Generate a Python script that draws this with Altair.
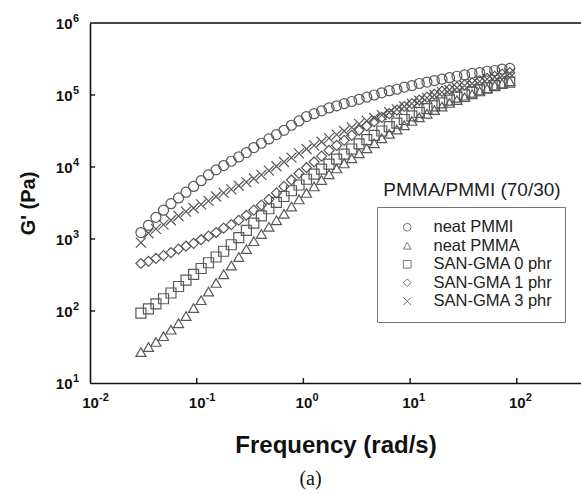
import altair as alt
import pandas as pd

# ---------------- data ----------------
frequency = [0.0300, 0.0353, 0.0415, 0.0489, 0.0574, 0.0676, 0.0794, 0.0935, 0.110, 0.129,
             0.152, 0.179, 0.211, 0.248, 0.292, 0.343, 0.404, 0.475, 0.559, 0.658,
             0.773, 0.910, 1.07, 1.26, 1.48, 1.74, 2.05, 2.41, 2.84, 3.33,
             3.93, 4.61, 5.43, 6.38, 7.52, 8.83, 10.4, 12.2, 14.4, 16.9,
             19.9, 23.4, 27.5, 32.4, 38.1, 44.9, 52.7, 62.1, 72.9, 85.9]

neat_pmmi = [1230, 1549, 1995, 2512, 3090, 3715, 4467, 5370, 6457, 7762,
             9120, 10470, 12020, 13800, 15850, 18620, 21380, 24550, 28180, 32360,
             38020, 43650, 50120, 54950, 60260, 66070, 70790, 75860, 81280, 87100,
             93330, 100000, 107200, 114800, 120200, 128800, 134900, 144500, 151400, 158500,
             166000, 173800, 182000, 190500, 199500, 204200, 213800, 218800, 229100, 234400]

neat_pmma = [26.9, 31.6, 37.2, 44.7, 55.0, 67.6, 85.1, 109.6, 141.3, 186.2,
             245.5, 323.6, 426.6, 562.3, 724.4, 933.3, 1175, 1479, 1820, 2239,
             2818, 3548, 4365, 5370, 6607, 7943, 9550, 11220, 13180, 15490,
             18200, 21380, 25120, 28840, 33110, 38020, 43650, 48980, 54950, 61660,
             69180, 77620, 85110, 93330, 102300, 112200, 123000, 134900, 144500, 154900]

san_gma_0 = [93.3, 107.2, 125.9, 147.9, 177.8, 218.8, 269.2, 323.6, 389.0, 467.7,
             562.3, 676.1, 831.8, 1047, 1318, 1660, 2089, 2630, 3236, 3890,
             4677, 5623, 6761, 7943, 9333, 10960, 12880, 15140, 17780, 20890,
             23990, 27540, 31620, 36310, 40740, 45710, 51290, 57540, 64570, 70790,
             77620, 85110, 93330, 100000, 109600, 117500, 125900, 134900, 144500, 151400]

san_gma_1 = [457.1, 489.8, 537.0, 588.8, 645.7, 724.4, 794.3, 871.0, 977.2, 1096,
             1230, 1413, 1585, 1820, 2138, 2512, 2951, 3548, 4365, 5370,
             6607, 8128, 9772, 11750, 14130, 16980, 19950, 23440, 27540, 32360,
             37150, 42660, 48980, 54950, 61660, 69180, 75860, 85110, 93330, 102300,
             112200, 120200, 128800, 138000, 147900, 158500, 169800, 182000, 195000, 204200]

san_gma_3 = [891.3, 1202, 1380, 1585, 1820, 2089, 2399, 2692, 3020, 3388,
             3890, 4365, 4898, 5495, 6166, 6918, 7762, 8913, 10230, 11750,
             13490, 15490, 17780, 19950, 22390, 25120, 28180, 31620, 35480, 39810,
             43650, 47860, 52480, 57540, 63100, 69180, 75860, 83180, 91200, 100000,
             109600, 117500, 125900, 134900, 144500, 154900, 166000, 177800, 186200, 199500]

series_names = ["neat PMMI", "neat PMMA", "SAN-GMA 0 phr", "SAN-GMA 1 phr", "SAN-GMA 3 phr"]
series_values = [neat_pmmi, neat_pmma, san_gma_0, san_gma_1, san_gma_3]

legend_title = "PMMA/PMMI (70/30)"
panel_label = "(a)"
x_title = "Frequency (rad/s)"
y_title = "G' (Pa)"

x_domain = [0.01, 400]
y_domain = [10, 1000000]
tick_base = "10"
x_tick_values = [0.01, 0.1, 1, 10, 100]
x_tick_exponents = ["-2", "-1", "0", "1", "2"]
y_tick_values = [10, 100, 1000, 10000, 100000, 1000000]
y_tick_exponents = ["1", "2", "3", "4", "5", "6"]
x_inner_ticks = [0.1, 1, 10, 100]
y_inner_ticks = [100, 1000, 10000, 100000]

# ---------------- build tables ----------------
rows = []
for name, vals in zip(series_names, series_values):
    for f, g in zip(frequency, vals):
        rows.append({"series": name, "freq": f, "G": g})
df = pd.DataFrame(rows)

x_exp_df = pd.DataFrame({"v": x_tick_values, "e": x_tick_exponents})
y_exp_df = pd.DataFrame({"v": y_tick_values, "e": y_tick_exponents})

W, H = 491, 360
FONT = "Liberation Sans"
INK = "#111111"
MARK = "#585858"

x_scale = alt.Scale(type="log", domain=x_domain, nice=False)
y_scale = alt.Scale(type="log", domain=y_domain, nice=False)

x_axis = alt.Axis(values=x_tick_values, labelExpr=f"'{tick_base}'",
                  tickSize=0, labelPadding=12, labelFont=FONT, labelFontSize=15,
                  labelFontWeight="bold", labelColor=INK, labelFlush=False, labelOverlap=False,
                  domainColor=INK, domainWidth=1.6, grid=False,
                  title=x_title, titleFont=FONT, titleFontSize=24, titleFontWeight="bold",
                  titleColor=INK, titlePadding=23)
y_axis = alt.Axis(values=y_tick_values, labelExpr=f"'{tick_base}'",
                  tickSize=0, labelPadding=18, labelFont=FONT, labelFontSize=15,
                  labelFontWeight="bold", labelColor=INK, labelFlush=False, labelOverlap=False,
                  domainColor=INK, domainWidth=1.6, grid=False,
                  title=y_title, titleFont=FONT, titleFontSize=20, titleFontWeight="bold",
                  titleColor=INK, titlePadding=17)

shape_range = ["circle", "triangle-up", "square", "diamond", "M-1,-1L1,1M-1,1L1,-1"]

points = alt.Chart(df).mark_point(filled=False, size=100, strokeWidth=1.2, color=MARK, opacity=1).encode(
    x=alt.X("freq:Q", scale=x_scale, axis=x_axis),
    y=alt.Y("G:Q", scale=y_scale, axis=y_axis),
    shape=alt.Shape("series:N", sort=series_names,
                    scale=alt.Scale(domain=series_names, range=shape_range),
                    legend=alt.Legend(orient="none", legendX=287, legendY=184,
                                      title=None,
                                      strokeColor="#777777", fillColor="white", padding=12,
                                      columnPadding=0,
                                      symbolSize=60, symbolStrokeWidth=1, symbolStrokeColor="#777777",
                                      symbolOffset=10, labelOffset=18,
                                      labelFont=FONT, labelFontSize=16.5, labelColor="#222222",
                                      rowPadding=1.5)),
)

# top frame line drawn through the x scale across the whole domain
top_frame = alt.Chart(pd.DataFrame({"a": [x_domain[0]], "b": [x_domain[1]]})).mark_rule(
    color=INK, strokeWidth=1.6).encode(
    x=alt.X("a:Q", scale=x_scale, axis=x_axis),
    x2="b:Q",
    y=alt.value(0),
)

x_ticks = alt.Chart(pd.DataFrame({"v": x_inner_ticks})).mark_rule(color=INK, strokeWidth=1.4).encode(
    x=alt.X("v:Q", scale=x_scale, axis=x_axis),
    y=alt.value(H), y2=alt.value(H - 5),
)
y_ticks = alt.Chart(pd.DataFrame({"v": y_inner_ticks})).mark_rule(color=INK, strokeWidth=1.4).encode(
    y=alt.Y("v:Q", scale=y_scale, axis=y_axis),
    x=alt.value(0), x2=alt.value(5),
)

# superscript exponents of the tick labels
x_exp = alt.Chart(x_exp_df).mark_text(font=FONT, fontSize=11, fontWeight="bold", color=INK,
                                      align="left", baseline="middle", dx=9).encode(
    x=alt.X("v:Q", scale=x_scale, axis=x_axis),
    y=alt.value(H + 15),
    text="e:N",
)
y_exp = alt.Chart(y_exp_df).mark_text(font=FONT, fontSize=11, fontWeight="bold", color=INK,
                                      align="left", baseline="middle", dy=-4).encode(
    y=alt.Y("v:Q", scale=y_scale, axis=y_axis),
    x=alt.value(-17),
    text="e:N",
)

legend_head = alt.Chart(pd.DataFrame({"t": [legend_title]})).mark_text(
    font=FONT, fontSize=19, color="#222222", align="center", baseline="middle").encode(
    text="t:N", x=alt.value(382), y=alt.value(167))

chart = alt.layer(points, top_frame, x_ticks, y_ticks, x_exp, y_exp, legend_head).properties(
    width=W, height=H,
    padding={"left": 90, "top": 23, "right": 0, "bottom": 111},
    autosize=alt.AutoSizeParams(type="none"),
    title=alt.TitleParams(panel_label, orient="bottom", anchor="middle", font="Liberation Serif",
                          fontSize=20, fontWeight="normal", color="#111111", offset=12, dx=-25),
).configure_view(stroke=None).configure_legend(strokeWidth=1.3).configure(background="white")

chart.save("out.html", embed_options={"renderer": "svg", "actions": False})
